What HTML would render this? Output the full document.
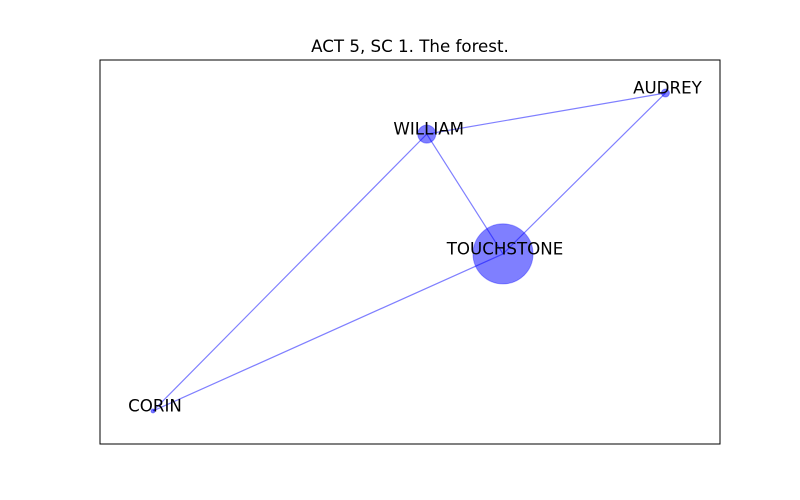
<!DOCTYPE html>
<html><head><meta charset="utf-8"><style>
body{margin:0;background:#fff;}
svg{display:block;font-family:"DejaVu Sans","Liberation Sans",sans-serif;}
</style></head><body>
<svg id="chart" width="800" height="500">
<rect width="800" height="500" fill="#fff"/>
<text x="410" y="52" text-anchor="middle" font-size="16.67" fill="#000">ACT 5, SC 1. The forest.</text>
<rect x="100" y="60" width="620" height="384" fill="none" stroke="#000" stroke-width="1"/>
<g id="edges"></g>
<g id="nodes"></g>
<g id="labels"></g>
</svg>
<script>
const names = ["AUDREY","WILLIAM","TOUCHSTONE","CORIN"];
const xs = [0.912, 0.527, 0.650, 0.0855];
const ys = [0.914, 0.807, 0.495, 0.086];
const radii = [4, 9, 30, 2];
const edgeFrom = ["WILLIAM","WILLIAM","WILLIAM","TOUCHSTONE","TOUCHSTONE"];
const edgeTo = ["AUDREY","TOUCHSTONE","CORIN","AUDREY","CORIN"];

const X0=100,X1=720,Y0=444,Y1=60;
function sx(v){return X0+v*(X1-X0);}
function sy(v){return Y0-v*(Y0-Y1);}
const NS="http://www.w3.org/2000/svg";
const eg=document.getElementById('edges'),ng=document.getElementById('nodes'),lg=document.getElementById('labels');
function idx(n){return names.indexOf(n);}
for(let k=0;k<edgeFrom.length;k++){
  const a=idx(edgeFrom[k]),b=idx(edgeTo[k]);
  const l=document.createElementNS(NS,'line');
  l.setAttribute('x1',sx(xs[a]));l.setAttribute('y1',sy(ys[a]));
  l.setAttribute('x2',sx(xs[b]));l.setAttribute('y2',sy(ys[b]));
  l.setAttribute('stroke','rgba(0,0,255,0.5)');l.setAttribute('stroke-width','1.2');
  
  
  eg.appendChild(l);
}
for(let i=0;i<names.length;i++){
  const c=document.createElementNS(NS,'circle');
  c.setAttribute('cx',sx(xs[i]));c.setAttribute('cy',sy(ys[i]));c.setAttribute('r',radii[i]);
  c.setAttribute('fill','rgba(0,0,255,0.5)');
  c.setAttribute('stroke','rgba(0,0,255,0.35)');c.setAttribute('stroke-width','1');
  
  
  ng.appendChild(c);
  const t=document.createElementNS(NS,'text');
  t.setAttribute('x',sx(xs[i])+2);t.setAttribute('y',sy(ys[i])-5);
  t.setAttribute('text-anchor','middle');t.setAttribute('dominant-baseline','central');
  t.setAttribute('font-size','16.67');t.textContent=names[i];
  
  
  lg.appendChild(t);
}
</script>
</body></html>
